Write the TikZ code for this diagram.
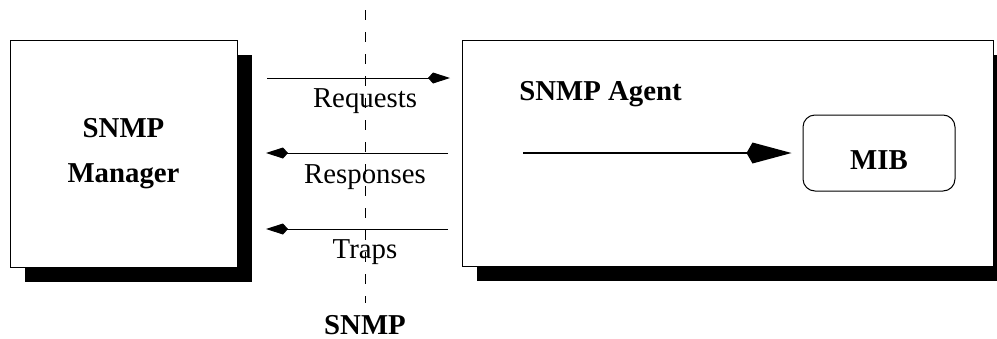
\documentclass[tikz,border=0pt]{standalone}
\usepackage{fontspec}
\setmainfont{Liberation Serif}
\usetikzlibrary{arrows.meta}
\usetikzlibrary{shadows}
\tikzset{
  % style for the two big boxes with their hard black shadow
  snmp box/.style={
    draw=black,fill=white,line width=0.5pt,
    drop shadow={shadow xshift=7.5pt,shadow yshift=-7.5pt,fill=black,opacity=1},
  },
  % styles for the texts
  bold label/.style={font=\fontsize{14.4}{22.5}\selectfont\bfseries,inner sep=0pt},
  msg label/.style={font=\fontsize{14.4}{17}\selectfont,inner sep=0pt,anchor=base},
  % style for the arrows between manager and agent
  msg arrow/.style={draw=black,line width=0.5pt,
    -{Kite[length=11pt,width=5.5pt,inset=2.5pt]}},
  % style for the arrow into the MIB
  mib arrow/.style={draw=black,line width=1pt,shorten >=5.5pt,
    -{Kite[length=22.5pt,width=10.5pt,inset=3pt]}},
  % style for the dashed protocol line
  bus line/.style={draw=black,line width=0.5pt,dash pattern=on 5pt off 6pt},
}

\begin{document}
\begin{tikzpicture}[x=0.5pt,y=-0.5pt]
\useasboundingbox (0,0) rectangle (997,338);
\coordinate (bus-top) at (365,10);
\coordinate (bus-bot) at (365,303);
\coordinate (req-l) at (267,78);
\coordinate (req-r) at (450,78);
\coordinate (resp-l) at (266,153);
\coordinate (resp-r) at (448,153);
\coordinate (trap-l) at (266,229);
\coordinate (trap-r) at (448,229);
\coordinate (mib-in) at (523,153);
\begin{scope}
  \node[snmp box,bold label,align=center,minimum width=113.5pt,minimum height=113.5pt]
  (manager) at (123.5,153.5) {SNMP\\Manager};
  \node[snmp box,minimum width=265.5pt,minimum height=113pt] (agent) at (727.5,153) {};
  \node[bold label,anchor=base west] (agent-title) at (519,100) {SNMP Agent};
  \node[draw=black,line width=0.5pt,rounded corners=6pt,bold label,
    minimum width=76pt,minimum height=38pt,text height=17pt] (mib) at (879,153) {MIB};
  \draw[mib arrow] (mib-in) -- (mib);
\end{scope}
\begin{scope}
  \draw[msg arrow] (req-l) -- (req-r);
  \draw[msg arrow] (resp-r) -- (resp-l);
  \draw[msg arrow] (trap-r) -- (trap-l);
  \node[msg label] (requests) at (365,107) {Requests};
  \node[msg label] (responses) at (365,183) {Responses};
  \node[msg label] (traps) at (365,258) {Traps};
  \draw[bus line] (bus-top) -- (bus-bot);
  \node[bold label,anchor=base] (snmp) at (365,334) {SNMP};
\end{scope}
\end{tikzpicture}
\end{document}
